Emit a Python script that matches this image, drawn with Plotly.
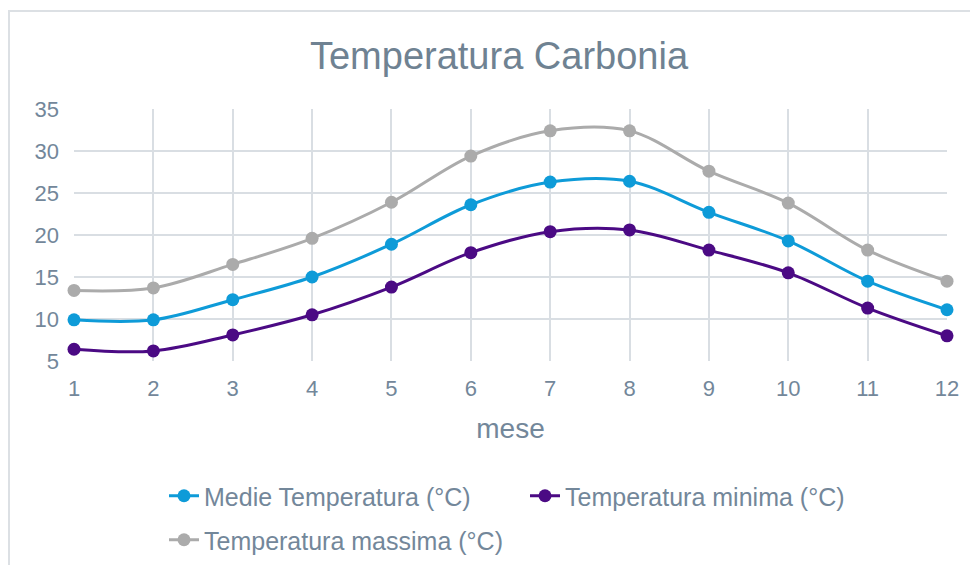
import plotly.graph_objects as go

# --- Data ---
mese = [1, 2, 3, 4, 5, 6, 7, 8, 9, 10, 11, 12]
temp_medie = [9.9, 9.9, 12.3, 15.0, 18.9, 23.6, 26.3, 26.4, 22.7, 19.3, 14.5, 11.1]
temp_minima = [6.4, 6.2, 8.1, 10.5, 13.8, 17.9, 20.4, 20.6, 18.2, 15.5, 11.3, 8.0]
temp_massima = [13.4, 13.7, 16.5, 19.6, 23.9, 29.4, 32.4, 32.4, 27.6, 23.8, 18.2, 14.5]

series = [
    ("Medie Temperatura (°C)", temp_medie, "#0E9BD8", "legend"),
    ("Temperatura minima (°C)", temp_minima, "#4B0A84", "legend"),
    ("Temperatura massima (°C)", temp_massima, "#ABABAB", "legend2"),
]

text_col = "#73879A"
grid_col = "#D9DEE3"
font_fam = "Liberation Sans, Arial, sans-serif"

# page has an 8px body margin, so the figure is a bit smaller than the window
W, H = 970, 557
L, T, R, B = 66, 101, 31, 204
plot_w = W - L - R
plot_h = H - T - B

fig = go.Figure()
for name, vals, col, leg in series:
    fig.add_trace(go.Scatter(
        x=mese, y=vals, name=name, mode="lines+markers",
        line=dict(color=col, width=3, shape="spline", smoothing=1),
        marker=dict(color=col, size=13),
        cliponaxis=False, legend=leg,
    ))

# chart frame
fig.add_shape(type="rect", xref="paper", yref="paper",
              x0=(1 - L) / plot_w, x1=2, y0=-2, y1=(plot_h + T - 3) / plot_h,
              line=dict(color="#DCE0E4", width=2), layer="below")

leg_x = (156 - L) / plot_w
leg_common = dict(orientation="h", x=leg_x, xanchor="left",
                  yref="container", yanchor="middle",
                  font=dict(size=25, color=text_col),
                  entrywidth=316, entrywidthmode="pixels",
                  bgcolor="rgba(0,0,0,0)")

fig.update_layout(
    width=W, height=H,
    margin=dict(l=L, r=R, t=T, b=B, autoexpand=False),
    paper_bgcolor="white", plot_bgcolor="white",
    font=dict(family=font_fam, color=text_col),
    title=dict(text="Temperatura Carbonia", x=491 / W, xanchor="center",
               y=1 - 48 / H, yanchor="middle",
               font=dict(size=38, color="#6F8292")),
    showlegend=True,
    legend=dict(leg_common, y=1 - 488 / H),
    legend2=dict(leg_common, y=1 - 532 / H),
)

fig.update_xaxes(
    range=[1, 12], tickmode="array", tickvals=mese,
    showgrid=True, gridcolor=grid_col, gridwidth=2,
    zeroline=False, showline=False,
    tickfont=dict(size=22, color=text_col), ticklabelstandoff=12,
    title=dict(text="mese", font=dict(size=28, color=text_col), standoff=18),
)
fig.update_yaxes(
    range=[5, 35], dtick=5,
    showgrid=True, gridcolor=grid_col, gridwidth=2,
    zeroline=False, showline=False,
    tickfont=dict(size=22, color=text_col), ticklabelstandoff=14,
)

fig.write_html("out.html")
